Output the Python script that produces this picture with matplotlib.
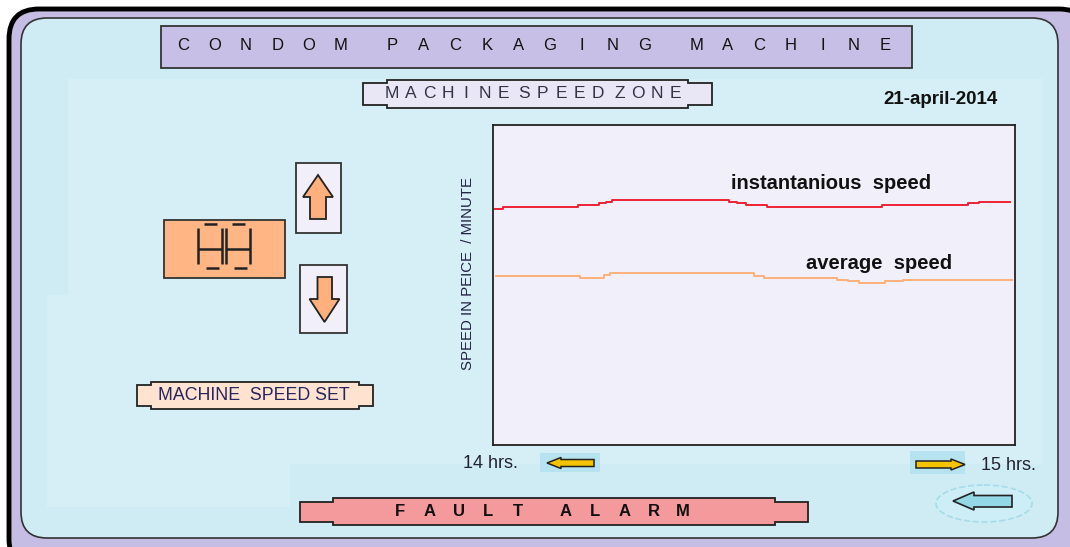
import numpy as np
import matplotlib
matplotlib.use("Agg")
import matplotlib.pyplot as plt
from matplotlib.patches import FancyBboxPatch, Rectangle, Polygon, Ellipse

plt.rcParams['font.family'] = ['Liberation Sans', 'DejaVu Sans']

# speed trend, minutes after 14 hrs, speed in % of chart height
inst_t = [0.2, 1.15, 9.8, 12.2, 13.0, 13.7, 27.1, 28.0, 29.1, 31.5, 44.7, 54.6, 55.9, 59.4]
inst_v = [73.8, 74.3, 75.0, 75.5, 76.0, 76.6, 76.0, 75.5, 75.0, 74.3, 75.0, 75.5, 76.0, 76.0]
avg_t = [0.4, 10.0, 12.8, 13.5, 30.0, 31.1, 39.5, 40.8, 42.1, 45.0, 47.1, 59.7]
avg_v = [52.9, 52.3, 53.1, 53.75, 52.9, 52.2, 51.6, 51.2, 50.7, 51.2, 51.7, 51.7]

W, H = 1070, 547
fig = plt.figure(figsize=(W / 100, H / 100), dpi=100)
fig.patch.set_facecolor("white")
bg = fig.add_axes([0, 0, 1, 1])
bg.set_xlim(0, W)
bg.set_ylim(H, 0)
bg.axis("off")


def spaced(text, x0, y, pitch, gap, **kw):
    # letter-spaced caption, one glyph per slot
    x = x0
    for ch in text:
        if ch == " ":
            x += pitch * (gap - 1)
            continue
        bg.text(x, y, ch, ha="center", va="center", **kw)
        x += pitch


def stepped(x0, x1, y0, y1, inset, step, fc):
    pts = [(x0, y0 + step), (x0 + inset, y0 + step), (x0 + inset, y0),
           (x1 - inset, y0), (x1 - inset, y0 + step), (x1, y0 + step),
           (x1, y1 - step), (x1 - inset, y1 - step), (x1 - inset, y1),
           (x0 + inset, y1), (x0 + inset, y1 - step), (x0, y1 - step)]
    bg.add_patch(Polygon(pts, closed=True, fc=fc, ec="#222222", lw=1.3))


# frame
bg.add_patch(FancyBboxPatch((9, 9), 1080, 560, boxstyle="round,pad=0,rounding_size=30",
                            fc="#c6bde4", ec="black", lw=3.5))
bg.add_patch(FancyBboxPatch((21, 18), 1037, 520, boxstyle="round,pad=0,rounding_size=26",
                            fc="#cfecf4", ec="#333333", lw=1.2))
bg.add_patch(Rectangle((68, 79), 975, 385, fc="#d6eff6", ec="none"))
bg.add_patch(Rectangle((47, 295), 243, 212, fc="#d6eff6", ec="none"))

# title
bg.add_patch(Rectangle((161, 26), 751, 42, fc="#c7bfe5", ec="#333333", lw=1.3))
spaced("CONDOM PACKAGING MACHINE", 183, 46, 31.5, 1.65, fontsize=12, color="#111111")

# speed zone caption
stepped(363, 712, 80, 108, 24, 3, "#e9e7f6")
spaced("MACHINE SPEED ZONE", 392, 94, 18.5, 1.15, fontsize=12.5, color="#333344")
bg.text(941, 99, "21-april-2014", ha="center", va="center", fontsize=13.5,
        fontweight="bold", color="#111111")

# speed setting display and buttons
bg.add_patch(Rectangle((164, 220), 121, 58, fc="#ffb684", ec="#333333", lw=1.3))
seg = dict(color="#222222", lw=1.8, solid_capstyle="butt")
for xl, xr in [(198.3, 221.7), (226, 250)]:
    bg.plot([xl, xl], [228, 263.5], **seg)
    bg.plot([xr, xr], [228, 263.5], **seg)
    bg.plot([xl, xr], [249, 249], **seg)
    bg.plot([xl + 5.5, xr - 5], [224.3, 224.3], **seg)
    bg.plot([xl + 7.5, xr - 3], [268.3, 268.3], **seg)

bg.add_patch(Rectangle((296, 163), 45, 70, fc="#f1eff9", ec="#333333", lw=1.3))
bg.add_patch(Polygon([(318, 175), (333, 197), (326, 197), (326, 219), (310, 219),
                      (310, 197), (303, 197)], closed=True, fc="#ffb07c", ec="#222222", lw=1.3))
bg.add_patch(Rectangle((300, 265), 47, 68, fc="#f1eff9", ec="#333333", lw=1.3))
bg.add_patch(Polygon([(324.5, 322), (339.5, 299), (332, 299), (332, 277), (317.5, 277),
                      (317.5, 299), (309.5, 299)], closed=True, fc="#ffb07c", ec="#222222", lw=1.3))

stepped(137, 373, 382, 409, 14, 3, "#ffe2d0")
bg.text(254, 396, "MACHINE  SPEED SET", ha="center", va="center", fontsize=12.8,
        color="#26265e")

# time scroll
bg.add_patch(Rectangle((540, 453), 60, 19, fc="#b7e3f0", ec="none"))
bg.add_patch(Polygon([(547, 463), (561, 457.5), (561, 459.5), (594, 459.5), (594, 466.5),
                      (561, 466.5), (561, 468.5)], closed=True, fc="#f5c400", ec="#222222", lw=1.1))
bg.add_patch(Rectangle((910, 451), 55, 23, fc="#b7e3f0", ec="none"))
bg.add_patch(Polygon([(965, 464.5), (951, 459), (951, 461), (916, 461), (916, 468),
                      (951, 468), (951, 470)], closed=True, fc="#f5c400", ec="#222222", lw=1.1))
bg.text(490.5, 463, "14 hrs.", ha="center", va="center", fontsize=13, color="#222233")
bg.text(1008, 465, "15 hrs.", ha="center", va="center", fontsize=13, color="#222233")

# fault alarm
stepped(300, 808, 498, 525, 33, 3.5, "#f4999c")
spaced("FAULT ALARM", 400, 512, 29.5, 1.6, fontsize=12, color="#111111",
       fontweight="bold")

# back button
bg.add_patch(Ellipse((984, 503.5), 96, 37, fc="#cdeef6", ec="#a6dbea", lw=1.2, ls="--"))
bg.add_patch(Polygon([(953, 501), (974, 492), (974, 495.5), (1012, 495.5), (1012, 507),
                      (974, 507), (974, 510)], closed=True, fc="#94d8e8", ec="#222222", lw=1.2))

# trend chart
ax = fig.add_axes([493 / W, (H - 445) / H, 522 / W, 320 / H])
ax.set_facecolor("#f1eff9")
ax.plot(inst_t, inst_v, drawstyle="steps-post", color="#ee2233", lw=1.4)
ax.plot(avg_t, avg_v, drawstyle="steps-post", color="#ffb07a", lw=1.4)
ax.set_xlim(0, 60)
ax.set_ylim(0, 100)
ax.set_xticks([])
ax.set_yticks([])
for s in ax.spines.values():
    s.set_color("#222222")
    s.set_linewidth(1.3)
ax.text(0.455, 0.816, "instantanious  speed", transform=ax.transAxes, ha="left",
        va="center", fontsize=14.5, fontweight="bold", color="#111111")
ax.text(0.599, 0.566, "average  speed", transform=ax.transAxes, ha="left",
        va="center", fontsize=14.5, fontweight="bold", color="#111111")
bg.text(468, 274, "SPEED IN PEICE  / MINUTE", rotation=90, ha="center", va="center",
        fontsize=10.8, color="#222244")

fig.savefig("out.png", dpi=100)
